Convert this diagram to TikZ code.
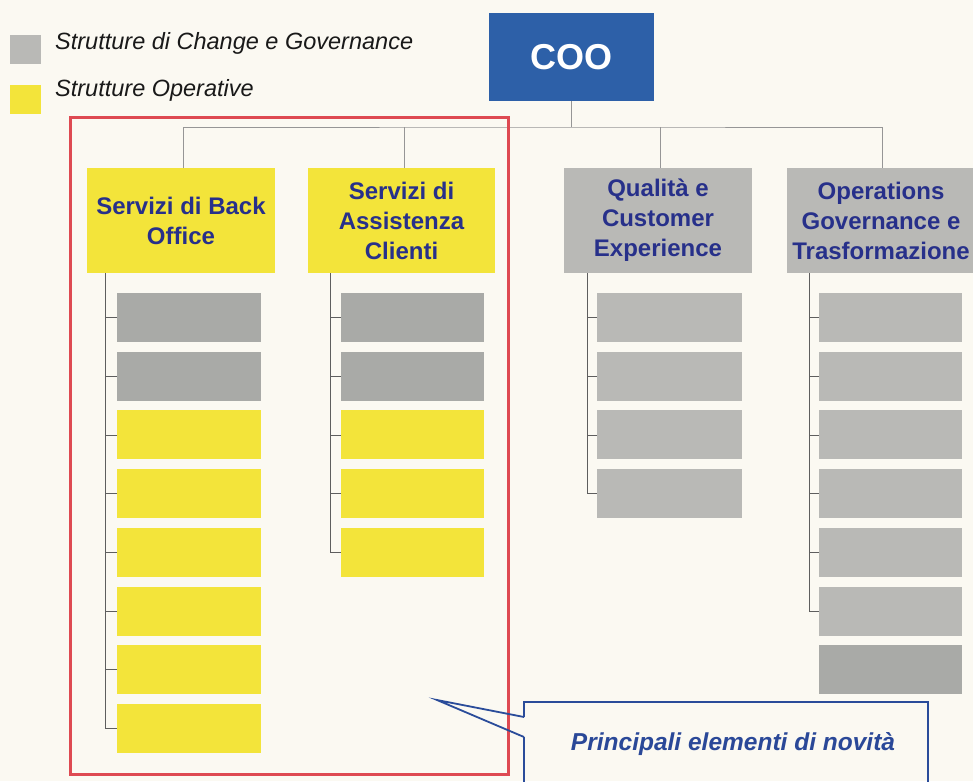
\documentclass[tikz,border=0pt]{standalone}
\usepackage{fontspec}
\setmainfont{Liberation Sans}
\usetikzlibrary{calc}
\definecolor{paper}{HTML}{FBF9F2}
\definecolor{govgrey}{HTML}{B9B9B6}
\definecolor{govdark}{HTML}{A9AAA7}
\definecolor{opyellow}{HTML}{F3E43A}
\definecolor{cooblue}{HTML}{2D60A8}
\definecolor{navy}{HTML}{27308A}
\definecolor{frame}{HTML}{DE4A52}
\definecolor{callblue}{HTML}{2A4C9A}
\definecolor{wire}{HTML}{5E5E5E}
\tikzset{
  box/.style={draw=none, inner sep=0pt, outer sep=0pt},
  head/.style={box, minimum width=188pt, minimum height=105pt, align=center,
    font=\fontsize{24}{30}\selectfont\bfseries, text=navy},
  item/.style={box, minimum width=144pt, minimum height=49pt},
  wireline/.style={draw=wire, line width=0.8pt},
  legtext/.style={anchor=west, inner sep=0pt, font=\fontsize{23.5}{28}\selectfont\itshape, text=black!90}
}
\begin{document}
\begin{tikzpicture}[x=1pt, y=-1pt]
  % page
  \fill[paper] (0,0) rectangle (973,781);
  \useasboundingbox (0,0) rectangle (973,781);

  % legend
  \node[box, fill=govgrey, minimum width=31pt, minimum height=29pt] (lgrey) at (25.5,49.5) {};
  \node[box, fill=opyellow, minimum width=31pt, minimum height=29pt] (lyellow) at (25.5,99.5) {};
  \node[legtext] (lgreytxt) at (55,43) {Strutture di Change e Governance};
  \node[legtext] (lyellowtxt) at (55,90) {Strutture Operative};

  % top of the chart
  \node[box, fill=cooblue, minimum width=165pt, minimum height=88pt,
        font=\fontsize{36}{42}\selectfont\bfseries, text=white] (coo) at (571.5,57) {COO};

  \node[head, fill=opyellow] (bo) at (181,220.5) {Servizi di Back\\Office};
  \node[head, fill=opyellow, minimum width=187pt] (ac) at (401.5,220.5) {Servizi di\\Assistenza\\Clienti};
  \node[head, fill=govgrey] (qc) at (658,220.5) {Qualità e\\Customer\\Experience};
  \node[head, fill=govgrey] (og) at (881,220.5) {Operations\\Governance e\\Trasformazione};

  % links from the COO
  \coordinate (bus) at (571.5,127);
  \draw[wireline, draw=wire!65] (coo.south) -- (bus);
  \draw[wireline, draw=wire!65] ([xshift=2pt]bo.north) |- (bus) -| ([xshift=1pt]og.north);
  \draw[wireline, draw=wire!65] ([xshift=2.5pt]ac.north) -- ([xshift=2.5pt]ac.north |- bus);
  \draw[wireline, draw=wire!65] ([xshift=2pt]qc.north) -- ([xshift=2pt]qc.north |- bus);

  % Servizi di Back Office: units
  \foreach \i/\c in {1/govdark,2/govdark,3/opyellow,4/opyellow,5/opyellow,6/opyellow,7/opyellow,8/opyellow}{
    \node[item, fill=\c] (bo\i) at (189,{317.5+58.7*(\i-1)}) {};
  }
  \coordinate (bospine) at (105,0);
  \draw[wireline] (bo.south -| bospine) |- (bo8.west);
  \foreach \i in {1,...,7}{ \draw[wireline] (bo\i.west) -- (bo\i.west -| bospine); }

  % Servizi di Assistenza Clienti: units
  \foreach \i/\c in {1/govdark,2/govdark,3/opyellow,4/opyellow,5/opyellow}{
    \node[item, fill=\c, minimum width=143pt] (ac\i) at (412.5,{317.5+58.7*(\i-1)}) {};
  }
  \coordinate (acspine) at (330,0);
  \draw[wireline] (ac.south -| acspine) |- (ac5.west);
  \foreach \i in {1,...,4}{ \draw[wireline] (ac\i.west) -- (ac\i.west -| acspine); }

  % Qualita e Customer Experience: units
  \foreach \i in {1,...,4}{
    \node[item, fill=govgrey, minimum width=145pt] (qc\i) at (669.5,{317.5+58.7*(\i-1)}) {};
  }
  \coordinate (qcspine) at (587,0);
  \draw[wireline] (qc.south -| qcspine) |- (qc4.west);
  \foreach \i in {1,...,3}{ \draw[wireline] (qc\i.west) -- (qc\i.west -| qcspine); }

  % Operations Governance e Trasformazione: units
  \foreach \i/\c in {1/govgrey,2/govgrey,3/govgrey,4/govgrey,5/govgrey,6/govgrey,7/govdark}{
    \node[item, fill=\c, minimum width=143pt] (og\i) at (890.5,{317.5+58.7*(\i-1)}) {};
  }
  \coordinate (ogspine) at (809,0);
  \draw[wireline] (og.south -| ogspine) |- (og6.west);
  \foreach \i in {1,...,5}{ \draw[wireline] (og\i.west) -- (og\i.west -| ogspine); }

  % highlight frame around the operative structures
  \node[box, draw=frame, line width=3pt, minimum width=438pt, minimum height=657pt] (hl) at (289,445.5) {};

  % callout
  \coordinate (ctip) at (437,700);
  \coordinate (cup) at (524,717);
  \coordinate (clow) at (524,737);
  \coordinate (ctl) at (524,702);
  \coordinate (ctr) at (928,702);
  \coordinate (cbl) at (524,790);
  \coordinate (cbr) at (928,790);
  \draw[callblue, line width=1.8pt, line join=miter]
    (cup) -- (ctl) -- (ctr) -- (cbr)
    (clow) -- (cbl)
    (cup) -- (ctip) -- (clow);
  \node[inner sep=0pt, font=\fontsize{24.5}{28}\selectfont\bfseries\itshape, text=callblue!85!navy] (ctext) at (733,744) {Principali elementi di novità};
\end{tikzpicture}
\end{document}
